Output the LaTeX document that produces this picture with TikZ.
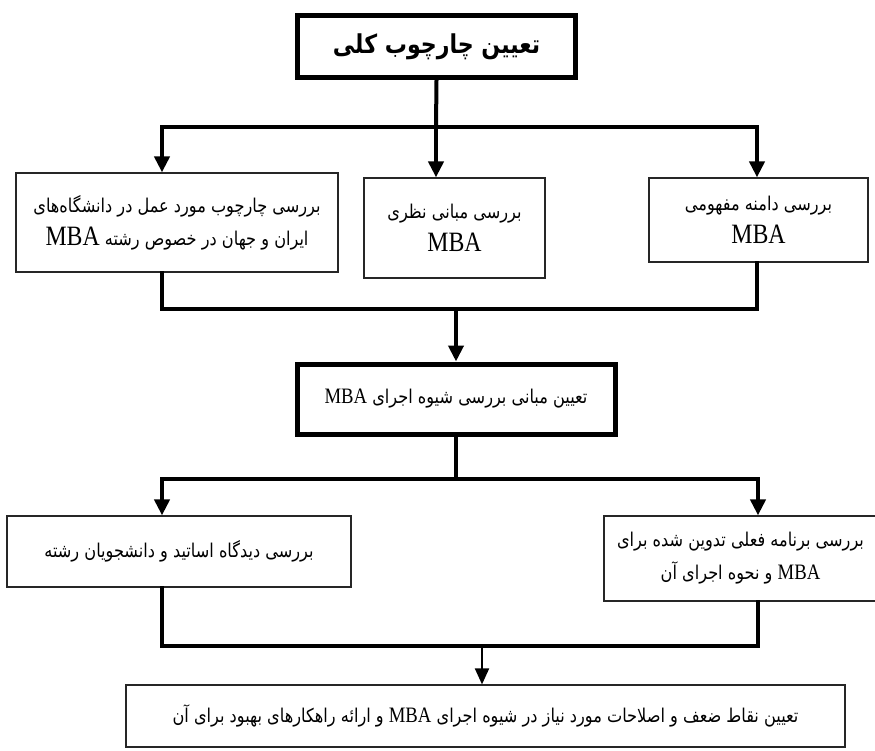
\documentclass[tikz,border=0pt]{standalone}
\usepackage{fontspec}
\usetikzlibrary{arrows.meta}
\TeXXeTstate=1
\newfontfamily\fafont[Script=Arabic,FakeStretch=0.85]{DejaVu Sans}
\newfontfamily\latfont[FakeStretch=0.85]{Liberation Serif}
\newcommand{\fa}[1]{\beginR#1\endR}
\newcommand{\mba}{\beginL{\latfont\fontsize{22}{24}\selectfont MBA}\endL}
\newcommand{\mbabig}{\beginL{\latfont\fontsize{28}{30}\selectfont MBA}\endL}

\begin{document}
\begin{tikzpicture}[
			x=1pt, y=-1pt,
			box/.style={rectangle, draw=black!85, line width=1.2pt, inner sep=0pt, align=center, font=\fafont\fontsize{19}{33}\selectfont},
			keybox/.style={box, draw=black, line width=5pt},
			trunk/.style={line width=4pt, line cap=rect, line join=miter},
			tip/.style={-{Triangle[length=16pt,width=15pt]}},
			tips/.style={{Triangle[length=16pt,width=15pt]}-{Triangle[length=16pt,width=15pt]}},
			]
			\useasboundingbox (0,0) rectangle (875,750);

			\node (title) [keybox, minimum width=278pt, minimum height=62pt, font=\fafont\bfseries\fontsize{26}{30}\selectfont] at (436.5,46.5) {\fa{تعیین چارچوب کلی}};

			\node (frame) [box, minimum width=322pt, minimum height=99pt] at (177,222.5) {\fa{بررسی چارچوب مورد عمل در دانشگاه‌های}\\\fa{ایران و جهان در خصوص رشته \mbabig}};
			\node (theory) [box, minimum width=181pt, minimum height=100pt] at (454.5,228) {\fa{بررسی مبانی نظری}\\\mbabig};
			\node (domain) [box, minimum width=219pt, minimum height=84pt] at (758.5,220) {\fa{بررسی دامنه مفهومی}\\\mbabig};

			\node (basis) [keybox, minimum width=318pt, minimum height=70pt] at (456,399) {\fa{تعیین مبانی بررسی شیوه اجرای \mba}};

			\node (views) [box, minimum width=344pt, minimum height=71pt] at (179,551.5) {\fa{بررسی دیدگاه اساتید و دانشجویان رشته}};
			\node (program) [box, minimum width=273pt, minimum height=85pt] at (740.5,558.5) {\fa{بررسی برنامه فعلی تدوین شده برای}\\\fa{\mba{} و نحوه اجرای آن}};

			\node (final) [box, minimum width=719pt, minimum height=62pt] at (485.5,716) {\fa{تعیین نقاط ضعف و اصلاحات مورد نیاز در شیوه اجرای \mba{} و ارائه راهکارهای بهبود برای آن}};

			% bus points
			\coordinate (b1) at (436,127);
			\coordinate (b1L) at (162,127);
			\coordinate (b1R) at (757,127);
			\coordinate (b2L) at (162,309);
			\coordinate (b2R) at (757,309);
			\coordinate (b3L) at (162,479);
			\coordinate (b3R) at (758,479);
			\coordinate (b4) at (482,646);
			\coordinate (b4L) at (162,646);
			\coordinate (b4R) at (758,646);

			\draw[trunk] (title.south) -- (b1);
			\draw[trunk, tips] (b1L |- frame.north) -- (b1L) -- (b1R) -- (b1R |- domain.north);
			\draw[trunk, tip] (b1) -- (b1 |- theory.north);

			\draw[trunk] (b2L |- frame.south) -- (b2L) -- (b2R) -- (b2R |- domain.south);
			\draw[trunk, tip] (basis.north |- b2L) -- (basis.north);

			\draw[trunk] (basis.south) -- (basis.south |- b3L);
			\draw[trunk, tips] (b3L |- views.north) -- (b3L) -- (b3R) -- (b3R |- program.north);

			\draw[trunk] (b4L |- views.south) -- (b4L) -- (b4R) -- (b4R |- program.south);
			\draw[line width=2pt, {-Triangle[length=16pt,width=14pt]}] (b4) -- (b4 |- final.north);
		\end{tikzpicture}
\end{document}
